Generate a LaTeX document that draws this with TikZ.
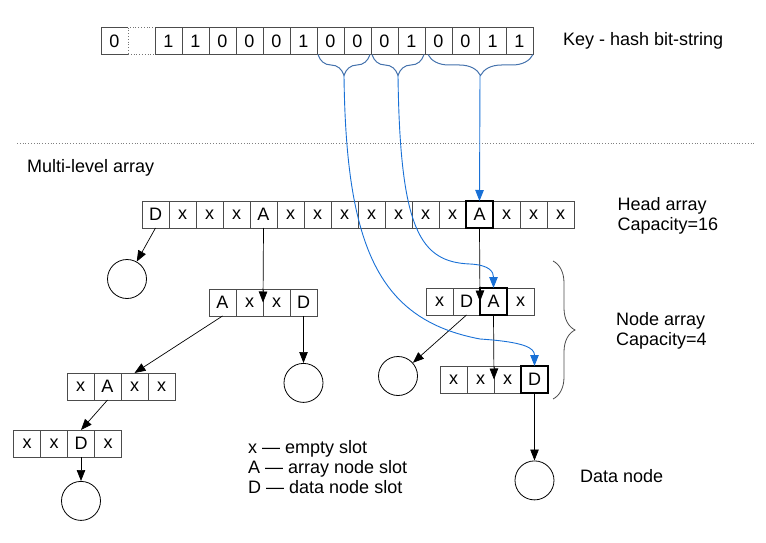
\documentclass[tikz,border=0pt]{standalone}
\usepackage{fontspec}
\setmainfont{Liberation Sans}
\usepackage{tikz}
\usepackage{xcolor}
\usetikzlibrary{positioning, arrows.meta, decorations.pathreplacing}

\definecolor{brace-blue}{RGB}{68,114,172}
\definecolor{link-blue}{RGB}{24,112,214}

\begin{document}
\begin{tikzpicture}
[
x=1pt, y=-1pt,
font=\fontsize{18}{20}\selectfont,
>={Triangle[length=11pt, width=8.5pt]},
cell-a/.style={rectangle, draw=black!70, line width=0.8pt, minimum size=27pt, inner sep=0pt, outer sep=0pt},
cell-b/.style={cell-a, draw=black, line width=1.6pt},
cell-c/.style={cell-a, draw=black!55, dotted},
leaf-a/.style={circle, draw, line width=0.8pt, minimum size=39pt, inner sep=0pt},
text-a/.style={inner sep=0pt, anchor=base west},
link-a/.style={->, line width=0.7pt},
link-b/.style={->, draw=link-blue, line width=0.9pt},
brace-a/.style={decorate, decoration={brace, mirror, amplitude=21pt}, draw=brace-blue, line width=1pt},
brace-b/.style={decorate, decoration={brace, amplitude=22pt}, draw=black!70, line width=0.8pt}
]

\useasboundingbox (0,0) rectangle (766,543);

% key bit-string
\node (bit-1)  [cell-a, draw=none]                 at (114.5,41) {0};
\draw [black!70, line width=0.8pt] (bit-1.north east) -| (bit-1.south west) -- (bit-1.south east);
\node (bit-2)  [cell-c, right = 0pt of bit-1]  {};
\node (bit-3)  [cell-a, right = 0pt of bit-2]  {1};
\node (bit-4)  [cell-a, right = 0pt of bit-3]  {1};
\node (bit-5)  [cell-a, right = 0pt of bit-4]  {0};
\node (bit-6)  [cell-a, right = 0pt of bit-5]  {0};
\node (bit-7)  [cell-a, right = 0pt of bit-6]  {0};
\node (bit-8)  [cell-a, right = 0pt of bit-7]  {1};
\node (bit-9)  [cell-a, right = 0pt of bit-8]  {0};
\node (bit-10) [cell-a, right = 0pt of bit-9]  {0};
\node (bit-11) [cell-a, right = 0pt of bit-10] {0};
\node (bit-12) [cell-a, right = 0pt of bit-11] {1};
\node (bit-13) [cell-a, right = 0pt of bit-12] {0};
\node (bit-14) [cell-a, right = 0pt of bit-13] {0};
\node (bit-15) [cell-a, right = 0pt of bit-14] {1};
\node (bit-16) [cell-a, right = 0pt of bit-15] {1};
\node (key-lb) [text-a] at (563,46) {Key - hash bit-string};

\draw [brace-a] ([xshift=1pt]bit-9.south west)  -- ([xshift=-1pt]bit-10.south east);
\draw [brace-a] ([xshift=1pt]bit-11.south west) -- ([xshift=-1pt]bit-12.south east);
\draw [brace-a] ([xshift=3pt]bit-13.south west) -- (bit-16.south east);
\coordinate (tip-1) at ([yshift=-21pt]bit-9.south east);
\coordinate (tip-2) at ([yshift=-21pt]bit-11.south east);
\coordinate (tip-3) at ([yshift=-21pt, xshift=1pt]bit-14.south east);

\draw [black!50, dotted, line width=0.8pt] (17,143) -- (755,143);
\node (multi-lb) [text-a] at (27,172.5) {Multi-level array};

% head array
\node (head-1)  [cell-a]                        at (155.5,214.5) {D};
\node (head-2)  [cell-a, right = 0pt of head-1]  {x};
\node (head-3)  [cell-a, right = 0pt of head-2]  {x};
\node (head-4)  [cell-a, right = 0pt of head-3]  {x};
\node (head-5)  [cell-a, right = 0pt of head-4]  {A};
\node (head-6)  [cell-a, right = 0pt of head-5]  {x};
\node (head-7)  [cell-a, right = 0pt of head-6]  {x};
\node (head-8)  [cell-a, right = 0pt of head-7]  {x};
\node (head-9)  [cell-a, right = 0pt of head-8]  {x};
\node (head-10) [cell-a, right = 0pt of head-9]  {x};
\node (head-11) [cell-a, right = 0pt of head-10] {x};
\node (head-12) [cell-a, right = 0pt of head-11] {x};
\node (head-14) [cell-a, right = 27pt of head-12] {x};
\node (head-13) [cell-b, right = 0pt of head-12] {A};
\node (head-15) [cell-a, right = 0pt of head-14] {x};
\node (head-16) [cell-a, right = 0pt of head-15] {x};
\node (head-lb)  [text-a] at (617.5,210.5) {Head array};
\node (head-cap) [text-a, below = 20pt of head-lb.base west, anchor=base west] {Capacity=16};

% node arrays
\node (lvl1-a-1) [cell-a]                          at (222.5,302.5) {A};
\node (lvl1-a-2) [cell-a, right = 0pt of lvl1-a-1] {x};
\node (lvl1-a-3) [cell-a, right = 0pt of lvl1-a-2] {x};
\node (lvl1-a-4) [cell-a, right = 0pt of lvl1-a-3] {D};

\node (lvl1-b-1) [cell-a]                          at (439.5,301.5) {x};
\node (lvl1-b-2) [cell-a, right = 0pt of lvl1-b-1] {D};
\node (lvl1-b-4) [cell-a, right = 27pt of lvl1-b-2] {x};
\node (lvl1-b-3) [cell-b, right = 0pt of lvl1-b-2] {A};

\node (lvl2-a-1) [cell-a]                          at (80.5,386.5) {x};
\node (lvl2-a-2) [cell-a, right = 0pt of lvl2-a-1] {A};
\node (lvl2-a-3) [cell-a, right = 0pt of lvl2-a-2] {x};
\node (lvl2-a-4) [cell-a, right = 0pt of lvl2-a-3] {x};

\node (lvl2-b-1) [cell-a]                          at (453.5,379.5) {x};
\node (lvl2-b-2) [cell-a, right = 0pt of lvl2-b-1] {x};
\node (lvl2-b-3) [cell-a, right = 0pt of lvl2-b-2] {x};
\node (lvl2-b-4) [cell-b, right = 0pt of lvl2-b-3] {D};

\node (lvl3-a-1) [cell-a]                          at (27,443.5) {x};
\node (lvl3-a-2) [cell-a, right = 0pt of lvl3-a-1] {x};
\node (lvl3-a-3) [cell-a, right = 0pt of lvl3-a-2] {D};
\node (lvl3-a-4) [cell-a, right = 0pt of lvl3-a-3] {x};

\draw [brace-b] (553,261) -- (553,399);
\node (node-lb)  [text-a] at (616,325.7) {Node array};
\node (node-cap) [text-a, below = 20pt of node-lb.base west, anchor=base west] {Capacity=4};

% data nodes
\node (leaf-1) [leaf-a] at (127,279) {};
\node (leaf-2) [leaf-a, below = 47pt of lvl1-a-4] {};
\node (leaf-3) [leaf-a] at (398,376) {};
\node (leaf-4) [leaf-a, below = 67.5pt of lvl2-b-4] {};
\node (leaf-5) [leaf-a, below = 24pt of lvl3-a-3] {};
\node (data-lb) [text-a] at (580,482) {Data node};

% legend
\node (key-x) [text-a] at (248,453.3) {x — empty slot};
\node (key-a) [text-a, below = 20pt of key-x.base west, anchor=base west] {A — array node slot};
\node (key-d) [text-a, below = 20pt of key-a.base west, anchor=base west] {D — data node slot};

% links
\draw [link-a] (head-1.south)   -- (leaf-1);
\draw [link-a] (head-5.south)   -- (lvl1-a-2.east);
\draw [link-a] (head-13.south)  -- (lvl1-b-2.east);
\draw [link-a] (lvl1-a-1.south) -- (lvl2-a-3.north);
\draw [link-a] (lvl1-a-4.south) -- (leaf-2);
\draw [link-a] (lvl1-b-2.south) -- (leaf-3);
\draw [link-a] (lvl1-b-3.south) -- (lvl2-b-2.east);
\draw [link-a] (lvl2-b-4.south) -- (leaf-4);
\draw [link-a] (lvl2-a-2.south) -- (lvl3-a-3.north);
\draw [link-a] (lvl3-a-3.south) -- (leaf-5);

\draw [link-b] (tip-3) -- (head-13.north);
\draw [link-b] (tip-2) .. controls (400,230) and (420,262) .. (470,264)
                       .. controls (490,265) and (493.5,272) .. (lvl1-b-3.north);
\draw [link-b] (tip-1) .. controls (346,250) and (380,320) .. (480,339)
                       .. controls (525,342) and (534.5,348) .. (lvl2-b-4.north);

\end{tikzpicture}
\end{document}
